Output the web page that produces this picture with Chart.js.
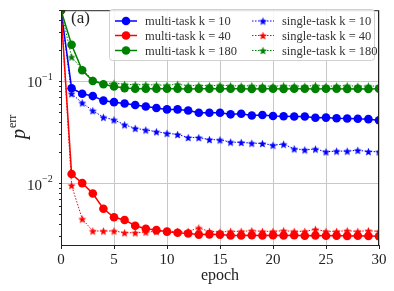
<!DOCTYPE html>
<html>
<head>
<meta charset="utf-8">
<script src="https://cdn.jsdelivr.net/npm/chart.js@4/dist/chart.umd.min.js"></script>
<style>
    html, body { margin: 0; padding: 0; background: white; }
    #box { width: 394px; height: 291px; position: relative; }
</style>
</head>
<body>
<div id="box"><canvas id="grafico"></canvas></div>
<script>
// dados
const epocas = [0, 1, 2, 3, 4, 5, 6, 7, 8, 9, 10, 11, 12, 13, 14, 15, 16, 17, 18, 19, 20, 21, 22, 23, 24, 25, 26, 27, 28, 29, 30];

const multi_10 = [0.5, 0.086, 0.076, 0.072, 0.065, 0.0628, 0.061, 0.0588, 0.057, 0.055, 0.0533, 0.0533, 0.052, 0.0495, 0.0495, 0.0495, 0.0477, 0.0484, 0.0464, 0.047, 0.046, 0.0457, 0.0454, 0.0454, 0.0441, 0.0443, 0.0437, 0.0434, 0.0431, 0.0428, 0.0418];
const multi_40 = [0.5, 0.0124, 0.0101, 0.0080, 0.00566, 0.00467, 0.0044, 0.00386, 0.00361, 0.0035, 0.00338, 0.0033, 0.00324, 0.00316, 0.00318, 0.00316, 0.0031, 0.0031, 0.00312, 0.0031, 0.00311, 0.0031, 0.00312, 0.00308, 0.0031, 0.00308, 0.00309, 0.00307, 0.00308, 0.00306, 0.00305];
const multi_180 = [0.5, 0.229, 0.129, 0.1013, 0.094, 0.0895, 0.0862, 0.085, 0.085, 0.085, 0.0849, 0.0849, 0.0845, 0.085, 0.0849, 0.085, 0.0849, 0.0849, 0.0845, 0.0849, 0.0849, 0.0845, 0.085, 0.0849, 0.0845, 0.085, 0.0849, 0.0845, 0.0849, 0.0845, 0.0849];

const single_10 = [0.5, 0.076, 0.0618, 0.0518, 0.0447, 0.0421, 0.0377, 0.0348, 0.0335, 0.0322, 0.0311, 0.0303, 0.0283, 0.0282, 0.027, 0.0268, 0.0255, 0.0253, 0.0249, 0.0247, 0.0238, 0.0243, 0.0219, 0.0214, 0.0218, 0.0205, 0.0208, 0.0208, 0.0212, 0.0206, 0.0205];
const single_40 = [0.5, 0.0096, 0.0045, 0.00343, 0.00343, 0.00343, 0.0033, 0.0033, 0.00335, 0.0034, 0.0034, 0.0034, 0.0034, 0.00367, 0.0034, 0.00335, 0.0034, 0.0034, 0.00345, 0.0034, 0.0034, 0.00345, 0.0034, 0.0034, 0.00356, 0.0034, 0.0034, 0.00345, 0.0034, 0.00345, 0.0034];
const single_180 = [0.5, 0.174, 0.132, 0.1036, 0.0957, 0.0963, 0.094, 0.093, 0.093, 0.0925, 0.092, 0.094, 0.091, 0.0915, 0.091, 0.092, 0.091, 0.0905, 0.091, 0.0905, 0.09, 0.091, 0.0905, 0.09, 0.0915, 0.09, 0.0905, 0.091, 0.09, 0.0905, 0.09];

const ticks_x = [0, 5, 10, 15, 20, 25, 30];
const ticks_y_maiores = [0.01, 0.1];
const ticks_y_menores = [0.003, 0.004, 0.005, 0.006, 0.007, 0.008, 0.009, 0.02, 0.03, 0.04, 0.05, 0.06, 0.07, 0.08, 0.09, 0.2, 0.3, 0.4, 0.5];
const rotulos_y = ['2', '1'];

const fonte = '"Liberation Serif", "DejaVu Serif", serif';

// estrela preenchida para os marcadores
function criarEstrela(cor, r) {
    var c = document.createElement('canvas');
    var s = Math.ceil(r * 2 + 2);
    c.width = s;
    c.height = s;
    var g = c.getContext('2d');
    g.fillStyle = cor;
    g.beginPath();
    for (var i = 0; i < 10; i++) {
        var rr = (i % 2 == 0) ? r : r * 0.45;
        var a = -Math.PI / 2 + i * Math.PI / 5;
        var px = s / 2 + rr * Math.cos(a);
        var py = s / 2 + 0.5 + rr * Math.sin(a);
        if (i == 0) g.moveTo(px, py); else g.lineTo(px, py);
    }
    g.closePath();
    g.fill();
    return c;
}

function serie(nome, valores, cor, multi) {
    var pontos = valores.map((v, i) => ({ x: epocas[i], y: v }));
    if (multi) {
        return {
            label: nome, data: pontos,
            borderColor: cor, backgroundColor: cor,
            borderWidth: 1.5, pointStyle: 'circle', pointRadius: 4.3,
            pointBorderWidth: 0, pointHoverRadius: 4.3, tension: 0
        };
    }
    return {
        label: nome, data: pontos,
        borderColor: cor, backgroundColor: cor,
        borderWidth: 1, borderDash: [1.5, 1.5],
        pointStyle: criarEstrela(cor, 4.2), pointRadius: 4,
        tension: 0
    };
}

const datasets = [
    serie('multi-task k = 10', multi_10, '#0000ff', true),
    serie('multi-task k = 40', multi_40, '#ff0000', true),
    serie('multi-task k = 180', multi_180, '#008000', true),
    serie('single-task k = 10', single_10, '#0000ff', false),
    serie('single-task k = 40', single_40, '#ff0000', false),
    serie('single-task k = 180', single_180, '#008000', false)
];
datasets.forEach((d, i) => { d.order = datasets.length - i; });

// moldura, legenda, rotulos com expoente
const extras = {
    id: 'extras',
    afterDraw(chart) {
        const ctx = chart.ctx;
        const a = chart.chartArea;
        const y = chart.scales.y;

        ctx.save();
        ctx.strokeStyle = '#222';
        ctx.lineWidth = 1;
        ctx.strokeRect(a.left + 0.5, a.top + 0.5, a.right - a.left - 1, a.bottom - a.top);

        // rotulos 10^-n
        ctx.fillStyle = '#222';
        ticks_y_maiores.forEach((v, i) => {
            var py = y.getPixelForValue(v);
            ctx.font = '15px ' + fonte;
            ctx.textBaseline = 'middle';
            ctx.textAlign = 'left';
            ctx.fillText('10', 27, py + 2);
            ctx.font = '10px ' + fonte;
            ctx.fillText('\u2212' + rotulos_y[i], 42, py - 4);
        });

        // titulo do eixo y
        ctx.save();
        ctx.translate(25, 124);
        ctx.rotate(-Math.PI / 2);
        ctx.textBaseline = 'alphabetic';
        ctx.textAlign = 'left';
        ctx.font = 'italic 20px ' + fonte;
        ctx.fillText('p', -15, 0);
        ctx.font = '12px ' + fonte;
        ctx.fillText('err', -4, -9);
        ctx.restore();

        // (a)
        ctx.font = '17px ' + fonte;
        ctx.textAlign = 'left';
        ctx.textBaseline = 'middle';
        ctx.fillText('(a)', 71, 19);

        // legenda
        var lx = 109, ly = 9, lw = 265, lh = 51;
        ctx.fillStyle = 'rgba(255,255,255,0.85)';
        ctx.strokeStyle = '#d0d0d0';
        ctx.lineWidth = 1;
        ctx.beginPath();
        ctx.roundRect(lx + 0.5, ly + 0.5, lw, lh, 3);
        ctx.fill();
        ctx.stroke();

        var colunas = [115, 252];
        var linhas = [21, 35.5, 50.5];
        chart.data.datasets.forEach((d, i) => {
            var cx = colunas[Math.floor(i / 3)];
            var cy = linhas[i % 3];
            ctx.strokeStyle = d.borderColor;
            ctx.lineWidth = d.borderWidth;
            ctx.setLineDash(d.borderDash || []);
            ctx.beginPath();
            ctx.moveTo(cx, cy);
            ctx.lineTo(cx + 22, cy);
            ctx.stroke();
            ctx.setLineDash([]);
            if (d.pointStyle == 'circle') {
                ctx.fillStyle = d.backgroundColor;
                ctx.beginPath();
                ctx.arc(cx + 11, cy, 4.3, 0, Math.PI * 2);
                ctx.fill();
            } else {
                var img = d.pointStyle;
                ctx.drawImage(img, cx + 11 - img.width / 2, cy - img.height / 2);
            }
            ctx.fillStyle = '#333';
            ctx.font = '12.5px ' + fonte;
            ctx.textAlign = 'left';
            ctx.textBaseline = 'middle';
            ctx.fillText(d.label, cx + 30, cy + 1);
        });
        ctx.restore();
    }
};

new Chart(document.getElementById('grafico'), {
    type: 'line',
    data: { datasets: datasets },
    plugins: [extras],
    options: {
        responsive: true,
        maintainAspectRatio: false,
        animation: false,
        layout: { padding: { top: 6, right: 15, left: 0, bottom: 0 } },
        plugins: {
            legend: { display: false },
            tooltip: { enabled: false }
        },
        scales: {
            x: {
                type: 'linear',
                min: 0,
                max: 30,
                afterFit: s => { s.height = 46; },
                afterBuildTicks: s => { s.ticks = ticks_x.map(v => ({ value: v })); },
                ticks: {
                    color: '#222',
                    font: { family: fonte, size: 15 },
                    padding: 2,
                    maxRotation: 0
                },
                grid: { color: '#c8c8c8', tickColor: '#222', tickLength: 4 },
                border: { color: '#222' },
                title: {
                    display: true,
                    text: 'epoch',
                    color: '#222',
                    font: { family: fonte, size: 16 },
                    padding: { top: 0, bottom: 6 }
                }
            },
            y: {
                type: 'logarithmic',
                min: 0.0025,
                max: 0.5,
                afterFit: s => { s.width = 61; },
                afterBuildTicks: s => {
                    s.ticks = ticks_y_maiores.concat(ticks_y_menores).sort((a, b) => a - b).map(v => ({ value: v, major: ticks_y_maiores.includes(v) }));
                },
                ticks: {
                    autoSkip: false,
                    callback: () => ''
                },
                grid: {
                    color: c => (c.tick && c.tick.major) ? '#c8c8c8' : 'transparent',
                    tickColor: '#222',
                    tickLength: c => (c.tick && c.tick.major) ? 4 : 2
                },
                border: { color: '#222' }
            }
        }
    }
});
</script>
</body>
</html>
